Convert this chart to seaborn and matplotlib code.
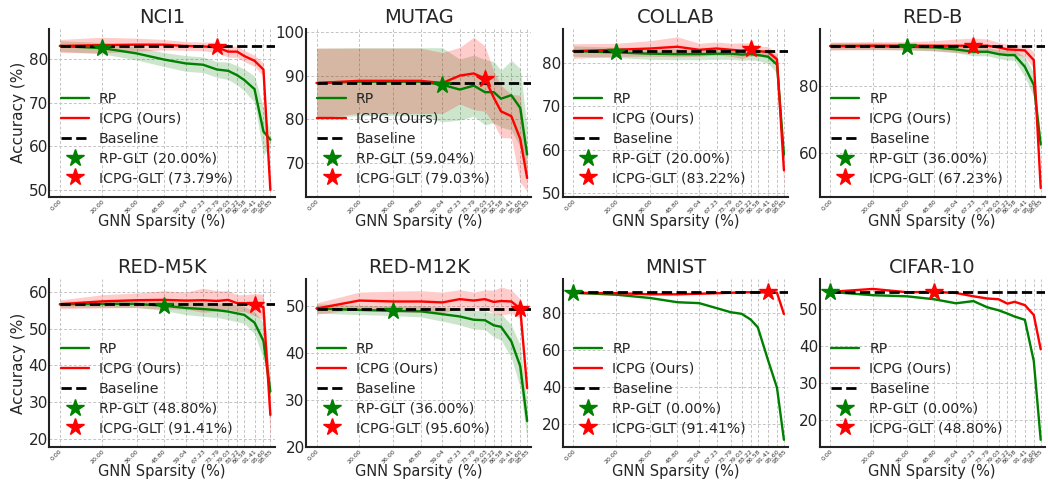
import numpy as np
import pandas as pd
import matplotlib
matplotlib.use("Agg")
import matplotlib.pyplot as plt
import seaborn as sns
from matplotlib.ticker import MultipleLocator

# sparsity levels (%) used on the x axis
sparsity = [0.00, 20.00, 36.00, 48.80, 59.04, 67.23, 73.79, 79.03, 83.22, 86.58, 91.41, 95.60, 98.85]
datasets = ["NCI1", "MUTAG", "COLLAB", "RED-B", "RED-M5K", "RED-M12K", "MNIST", "CIFAR-10"]
baseline = [83.0, 88.3, 82.7, 91.9, 56.7, 49.5, 91.3, 54.7]
rp_glt = [20.00, 59.04, 20.00, 36.00, 48.80, 36.00, 0.00, 0.00]
icpg_glt = [73.79, 79.03, 83.22, 67.23, 91.41, 95.60, 91.41, 48.80]

nci1_rp = [83.0, 82.5, 81.3, 79.9, 79.0, 78.7, 77.6, 77.3, 76.3, 75.2, 73.1, 63.4, 61.5]
nci1_rp_std = [1.2, 1.3, 1.5, 1.6, 1.8, 1.8, 1.8, 2.0, 2.2, 2.5, 3.0, 5.5, 1.5]
nci1_icpg = [83.0, 83.2, 83.3, 83.3, 83.0, 82.9, 82.7, 81.7, 81.7, 80.7, 79.6, 77.6, 50.0]
nci1_icpg_std = [1.5, 1.8, 1.5, 1.2, 1.0, 1.0, 1.2, 1.3, 1.3, 1.3, 1.3, 1.5, 0.5]

mutag_rp = [88.3, 88.6, 88.6, 88.6, 87.9, 86.8, 87.7, 86.2, 86.2, 84.7, 85.5, 82.6, 71.9]
mutag_rp_std = [8.0, 7.8, 7.8, 7.8, 8.5, 7.0, 7.0, 7.5, 7.0, 6.5, 8.0, 9.0, 6.0]
mutag_icpg = [88.3, 88.8, 88.8, 88.8, 88.3, 90.0, 90.5, 89.3, 84.9, 81.8, 80.7, 75.5, 66.5]
mutag_icpg_std = [8.0, 7.5, 7.5, 7.5, 7.0, 6.5, 8.3, 7.5, 6.0, 6.0, 5.0, 10.0, 3.0]

collab_rp = [82.7, 82.4, 82.1, 82.0, 82.0, 82.1, 82.1, 81.9, 82.0, 81.8, 81.4, 79.6, 58.8]
collab_rp_std = [1.2, 1.2, 1.3, 1.3, 1.3, 1.3, 1.3, 1.3, 1.3, 1.3, 1.5, 2.0, 1.0]
collab_icpg = [82.7, 83.0, 83.3, 83.7, 83.0, 83.3, 83.0, 82.8, 83.1, 82.7, 82.5, 80.8, 55.2]
collab_icpg_std = [1.7, 1.5, 1.8, 2.3, 1.5, 1.5, 1.5, 1.8, 1.5, 1.2, 1.2, 1.5, 4.0]

redb_rp = [91.9, 91.9, 91.7, 91.5, 90.9, 90.2, 90.2, 89.5, 89.2, 89.2, 85.7, 80.3, 62.5]
redb_rp_std = [1.0, 1.0, 1.0, 1.0, 1.0, 1.2, 1.2, 1.3, 1.5, 1.5, 3.0, 3.5, 2.0]
redb_icpg = [91.9, 92.0, 92.0, 92.0, 92.0, 92.0, 92.0, 91.5, 90.9, 90.8, 90.6, 87.7, 49.5]
redb_icpg_std = [1.2, 1.2, 1.2, 1.5, 2.0, 2.3, 2.0, 1.5, 1.5, 1.5, 1.8, 2.5, 1.0]

m5k_rp = [56.7, 56.8, 56.8, 56.3, 55.7, 55.4, 55.1, 54.7, 54.2, 53.8, 51.7, 46.7, 32.9]
m5k_rp_std = [0.8, 0.9, 1.0, 1.3, 1.8, 2.0, 2.0, 2.2, 2.3, 2.3, 3.0, 5.0, 3.0]
m5k_icpg = [56.7, 57.5, 57.8, 57.9, 57.7, 57.8, 57.6, 57.9, 57.0, 57.0, 56.6, 55.9, 26.5]
m5k_icpg_std = [1.2, 1.8, 2.0, 2.5, 2.3, 3.3, 2.8, 2.5, 2.3, 2.3, 3.0, 3.5, 7.0]

m12k_rp = [49.5, 49.2, 49.0, 48.9, 48.3, 47.8, 47.1, 47.0, 45.9, 45.6, 42.5, 37.2, 25.5]
m12k_rp_std = [1.0, 1.0, 1.0, 1.2, 1.5, 1.8, 2.0, 2.0, 2.5, 2.8, 3.5, 4.5, 4.0]
m12k_icpg = [49.5, 51.2, 51.0, 51.0, 50.8, 51.5, 51.2, 51.5, 50.9, 51.1, 51.0, 49.5, 32.5]
m12k_icpg_std = [1.2, 1.8, 2.2, 2.3, 2.2, 2.0, 1.8, 2.0, 2.5, 3.0, 2.5, 2.0, 1.5]

mnist_rp = [91.0, 90.0, 88.2, 85.9, 85.4, 82.7, 80.5, 79.6, 76.5, 72.3, 54.4, 39.5, 11.3]
mnist_rp_std = [0.3, 0.3, 0.3, 0.3, 0.3, 0.3, 0.3, 0.3, 0.3, 0.3, 0.3, 0.3, 0.3]
mnist_icpg = [91.0, 90.8, 90.2, 90.2, 90.5, 90.8, 91.0, 91.3, 91.3, 91.3, 91.2, 91.0, 79.5]
mnist_icpg_std = [0.3, 0.3, 0.3, 0.3, 0.3, 0.3, 0.3, 0.3, 0.3, 0.3, 0.3, 0.3, 0.3]

cifar_rp = [54.7, 53.8, 53.5, 52.7, 51.6, 52.2, 50.5, 49.7, 48.8, 48.0, 47.1, 35.9, 14.5]
cifar_rp_std = [0.2, 0.2, 0.2, 0.2, 0.2, 0.2, 0.2, 0.2, 0.2, 0.2, 0.2, 0.2, 0.2]
cifar_icpg = [54.7, 55.5, 54.6, 54.7, 54.4, 53.5, 52.9, 52.7, 51.5, 52.0, 51.1, 48.4, 39.1]
cifar_icpg_std = [0.2, 0.2, 0.2, 0.2, 0.2, 0.2, 0.2, 0.2, 0.2, 0.2, 0.2, 0.2, 0.2]

rp_all = [nci1_rp, mutag_rp, collab_rp, redb_rp, m5k_rp, m12k_rp, mnist_rp, cifar_rp]
rp_std_all = [nci1_rp_std, mutag_rp_std, collab_rp_std, redb_rp_std, m5k_rp_std, m12k_rp_std, mnist_rp_std, cifar_rp_std]
icpg_all = [nci1_icpg, mutag_icpg, collab_icpg, redb_icpg, m5k_icpg, m12k_icpg, mnist_icpg, cifar_icpg]
icpg_std_all = [nci1_icpg_std, mutag_icpg_std, collab_icpg_std, redb_icpg_std, m5k_icpg_std, m12k_icpg_std, mnist_icpg_std, cifar_icpg_std]

ylims = [(48.4, 86.9), (62.2, 100.7), (49.1, 87.8), (46.9, 97.0), (17.8, 63.6), (20.0, 55.8), (7.5, 98.5), (12.6, 58.2)]
ysteps = [10, 10, 10, 20, 10, 10, 20, 10]

sns.set_style("whitegrid")
plt.rcParams['font.family'] = ['DejaVu Sans']

fig, axes = plt.subplots(2, 4, figsize=(10.48, 4.83), dpi=100)
fig.subplots_adjust(left=0.047, right=0.997, bottom=0.075, top=0.94, wspace=0.14, hspace=0.49)

x = np.array(sparsity)
for i, ax in enumerate(axes.flat):
    rp = np.array(rp_all[i]); rps = np.array(rp_std_all[i])
    ic = np.array(icpg_all[i]); ics = np.array(icpg_std_all[i])
    df = pd.DataFrame({"Sparsity": sparsity, "RP": rp, "ICPG": ic})

    ax.fill_between(x, rp - rps, rp + rps, color="green", alpha=0.2, lw=0)
    ax.fill_between(x, ic - ics, ic + ics, color="red", alpha=0.2, lw=0)
    sns.lineplot(data=df, x="Sparsity", y="RP", color="green", lw=1.7, ax=ax, label="RP")
    sns.lineplot(data=df, x="Sparsity", y="ICPG", color="red", lw=1.7, ax=ax, label="ICPG (Ours)")
    ax.hlines(baseline[i], sparsity[0], 101, colors="black", linestyles="--", lw=2, label="Baseline", zorder=4)

    gi = sparsity.index(rp_glt[i])
    ax.plot(rp_glt[i], rp[gi], marker="*", color="green", ms=13, ls="none", zorder=5,
            label="RP-GLT (%.2f%%)" % rp_glt[i])
    gj = sparsity.index(icpg_glt[i])
    ax.plot(icpg_glt[i], ic[gj], marker="*", color="red", ms=13, ls="none", zorder=5,
            label="ICPG-GLT (%.2f%%)" % icpg_glt[i])

    ax.set_xlim(-5, 100.8)
    ax.set_ylim(*ylims[i])
    ax.yaxis.set_major_locator(MultipleLocator(ysteps[i]))
    ax.set_xticks(sparsity)
    ax.set_xticklabels(["%.2f" % s for s in sparsity], rotation=45, fontsize=4.5, ha="right",
                       rotation_mode="anchor", color="#333333")
    ax.tick_params(axis="y", labelsize=11, pad=1, length=0)
    ax.tick_params(axis="x", pad=1.5, length=0)
    ax.grid(True, linestyle=(0, (3, 2)), color="#c4c4c4", lw=0.7)
    for s in ["top", "right"]:
        ax.spines[s].set_visible(False)
    for s in ["left", "bottom"]:
        ax.spines[s].set_color("#222222")
        ax.spines[s].set_linewidth(1.5)

    ax.set_title(datasets[i], fontsize=14, pad=4)
    ax.set_xlabel("GNN Sparsity (%)", fontsize=10.5, labelpad=-1)
    if i % 4 == 0:
        ax.set_ylabel("Accuracy (%)", fontsize=11, labelpad=2)
    else:
        ax.set_ylabel("")
    ax.legend(loc="lower left", frameon=False, fontsize=10.2, handlelength=2.0,
              labelspacing=0.42, borderaxespad=0.4, handletextpad=0.7)

fig.savefig("out.png", dpi=100)
